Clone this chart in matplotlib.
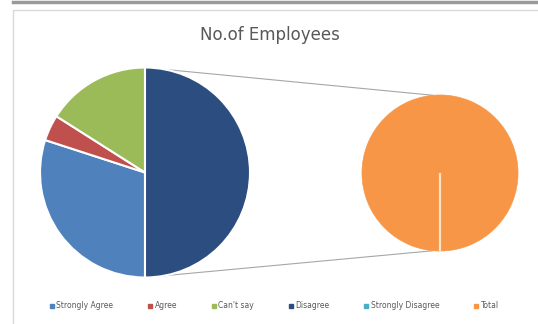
import numpy as np
import matplotlib.pyplot as plt
from matplotlib.patches import Rectangle
from matplotlib.lines import Line2D

# Survey responses (number of employees)
categories = ['Strongly Agree', 'Agree', "Can't say", 'Disagree', 'Strongly Disagree', 'Total']
counts = [15, 2, 8, 0, 0, 25]
colors = ['#4F81BD', '#C0504D', '#9BBB59', '#2C4D7F', '#4BACC6', '#F79646']

# first three go in the main pie, the rest are split out into the second pie
n_main = 3
main_vals = counts[:n_main] + [sum(counts[n_main:])]
main_cols = colors[:n_main] + [colors[3]]
sub_vals = counts[n_main:]
sub_cols = colors[n_main:]

W, H = 538, 324
fig = plt.figure(figsize=(W / 100, H / 100), dpi=100)
ax = fig.add_axes([0, 0, 1, 1])

# main pie, starting at 6 o'clock going clockwise so "other" sits on the right
c1, r1 = (145, 151.5), 105
w1, _ = ax.pie(main_vals, colors=main_cols, startangle=270, counterclock=False,
               center=c1, radius=r1, frame=True,
               wedgeprops=dict(edgecolor='white', linewidth=1.5))

# secondary pie
c2, r2 = (440, 151), 78
w2, _ = ax.pie(sub_vals, colors=sub_cols, startangle=270, counterclock=False,
               center=c2, radius=r2, frame=True,
               wedgeprops=dict(edgecolor='#FBE3C8', linewidth=1.5))
for w, v in zip(w2, sub_vals):
    if v == 0:
        w.set_zorder(3)
    else:
        w.set_edgecolor(w.get_facecolor())
        w.set_linewidth(0.5)

# connector lines from the top and bottom of the "other" slice to the second pie
other = w1[-1]
for ang1, ang2 in [(other.theta2, 95), (other.theta1, 265)]:
    x1 = c1[0] + r1 * np.cos(np.radians(ang1))
    y1 = c1[1] + r1 * np.sin(np.radians(ang1))
    x2 = c2[0] + r2 * np.cos(np.radians(ang2))
    y2 = c2[1] + r2 * np.sin(np.radians(ang2))
    ax.plot([x1, x2], [y1, y2], color='#A6A6A6', lw=0.8, zorder=0)

# chart area border and sheet line above it
ax.add_patch(Rectangle((13, -5), W, H - 10 + 5, fill=False, edgecolor='#D9D9D9', lw=1))
ax.plot([13, W], [H - 1.5, H - 1.5], color='#9A9A9A', lw=2.5)

ax.text(270, 289, 'No.of Employees', ha='center', va='center',
        fontsize=12, color='#595959')

handles = [Line2D([], [], marker='s', linestyle='none', markersize=3,
                  markerfacecolor=c, markeredgecolor=c) for c in colors]
ax.legend(handles, categories, loc='center', bbox_to_anchor=(274, 18),
          bbox_transform=ax.transData, ncol=6, frameon=False, fontsize=5.5,
          labelcolor='#595959', handlelength=0.6, handletextpad=0.3,
          columnspacing=4.5)

ax.set_xlim(0, W)
ax.set_ylim(0, H)
ax.set_aspect('auto')
ax.axis('off')

fig.savefig('out.png', dpi=100)
